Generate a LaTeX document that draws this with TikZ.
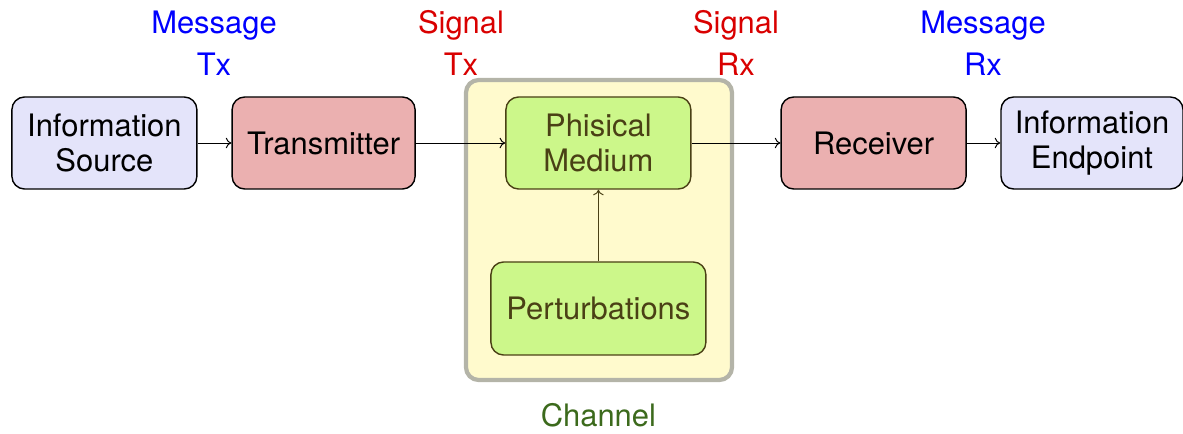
\documentclass[tikz,border=0pt]{standalone}
\usepackage{xcolor}
\usepackage{fontspec}
\setmainfont{TeX Gyre Heros}
\usepackage{tikz}
\usetikzlibrary{arrows.meta}

\definecolor{infofill}{HTML}{E4E4FA}
\definecolor{devfill}{HTML}{EBB0B0}
\definecolor{medfill}{HTML}{CCF78A}
\definecolor{medtext}{HTML}{4A4015}
\definecolor{chanfill}{HTML}{FFFACD}
\definecolor{chanline}{HTML}{B4B4A8}
\definecolor{chantext}{HTML}{3C6A1C}

\begin{document}
\begin{tikzpicture}[
  every node/.style={font=\fontsize{22}{24.5}\selectfont, align=center},
  block/.style={draw=black, line width=1pt, rounded corners=9pt, minimum height=2.3cm},
  tag/.style={font=\fontsize{22}{30}\selectfont},
  link/.style={-{To[length=4pt,width=7.5pt]}, line width=0.7pt}]
\useasboundingbox (0,0) rectangle (29.575,10.85);
% channel frame
\draw[chanline, line width=3pt, fill=chanfill, rounded corners=9pt] (11.65,1.35) rectangle (18.3,8.85);
\node[text=chantext] (chan) at (14.96,0.475) {Channel};
% blocks
\node[block, fill=infofill, minimum width=4.625cm] (src) at (2.61,7.275) {Information\\Source};
\node[block, fill=devfill, minimum width=4.575cm] (tx) at (8.09,7.275) {Transmitter};
\node[block, fill=medfill, draw=medtext, text=medtext, minimum width=4.625cm] (med) at (14.96,7.275) {Phisical\\Medium};
\node[block, fill=medfill, draw=medtext, text=medtext, minimum width=5.375cm, minimum height=2.325cm] (pert) at (14.96,3.1375) {Perturbations};
\node[block, fill=devfill, minimum width=4.625cm] (rx) at (21.84,7.275) {Receiver};
\node[block, fill=infofill, minimum width=4.55cm] (dst) at (27.3,7.275) {Information\\Endpoint};
% labels above
\node[tag, text=blue] (mtx) at (5.35,9.775) {Message\\Tx};
\node[tag, text=red!85!black] (stx) at (11.525,9.775) {Signal\\Tx};
\node[tag, text=red!85!black] (srx) at (18.4,9.775) {Signal\\Rx};
\node[tag, text=blue] (mrx) at (24.575,9.775) {Message\\Rx};
% connections
\draw[link] (src)--(tx);
\draw[link] (tx)--(med);
\draw[link] (med)--(rx);
\draw[link] (rx)--(dst);
\draw[link, medtext] (pert)--(med);
\end{tikzpicture}
\end{document}
